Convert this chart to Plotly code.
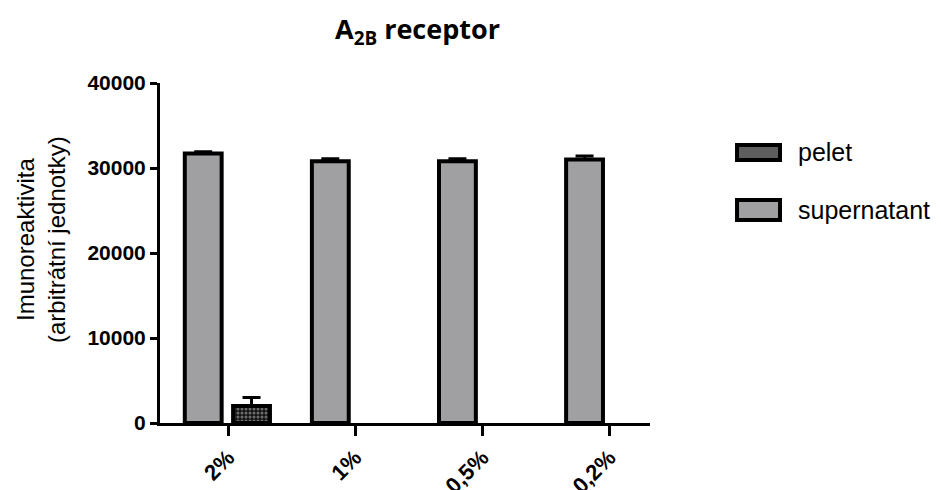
import plotly.graph_objects as go

categories = ["2%", "1%", "0,5%", "0,2%"]
supernatant = [31700, 30800, 30800, 31000]
supernatant_err = [200, 300, 300, 400]
pelet = [2000, 0, 0, 0]
pelet_err = [1000, 0, 0, 0]
y_ticks = [0, 10000, 20000, 30000, 40000]
series_names = ["pelet", "supernatant"]
y_title = "Imunoreaktivita<br>(arbitrátní jednotky)"

fig = go.Figure()
fig.add_trace(go.Bar(
    x=categories, y=[v if v else None for v in pelet], name=series_names[0], showlegend=False,
    offset=0.04, width=0.29,
    marker=dict(color="#111111", line=dict(color="black", width=4),
                pattern=dict(shape=".", fgcolor="#c8c8c8", bgcolor="#111111", size=4, solidity=0.45)),
    error_y=dict(type="data", symmetric=False, array=pelet_err, arrayminus=[0]*4,
                 color="black", thickness=3, width=9),
))
fig.add_trace(go.Bar(
    x=categories, y=supernatant, name=series_names[1], showlegend=False,
    offset=-0.34, width=0.29,
    marker=dict(color="#a0a0a2", line=dict(color="black", width=4)),
    error_y=dict(type="data", symmetric=False, array=supernatant_err, arrayminus=[0]*4,
                 color="black", thickness=3, width=9),
))

# legend drawn as shapes + text
fig.add_shape(type="rect", xref="paper", yref="paper", x0=1.1776, x1=1.2653, y0=0.7735, y1=0.8176,
              fillcolor="#5e5e5e", line=dict(color="black", width=4))
fig.add_shape(type="rect", xref="paper", yref="paper", x0=1.1776, x1=1.2653, y0=0.597, y1=0.6559,
              fillcolor="#a0a0a2", line=dict(color="black", width=4))
fig.add_annotation(text=series_names[0], xref="paper", yref="paper", x=1.298, y=0.797,
                   xanchor="left", yanchor="middle", showarrow=False, font=dict(size=25))
fig.add_annotation(text=series_names[1], xref="paper", yref="paper", x=1.298, y=0.6265,
                   xanchor="left", yanchor="middle", showarrow=False, font=dict(size=25))
# y-axis title
fig.add_annotation(text=y_title, xref="paper", yref="paper", x=(41-160)/490, y=(423-240)/340,
                   xanchor="center", yanchor="middle", textangle=-90, showarrow=False,
                   font=dict(size=24))

fig.update_layout(
    width=941, height=490,
    barmode="overlay",
    plot_bgcolor="white", paper_bgcolor="white",
    margin=dict(l=160, r=291, t=83, b=67, autoexpand=False),
    font=dict(family="Liberation Sans, Arial", color="black"),
    title=dict(text="<b>A<sub>2B</sub> receptor</b>", x=417.5/941, xanchor="center", y=1-30/490, yanchor="middle",
               font=dict(family="Open Sans, Liberation Sans", size=27, color="black")),
    showlegend=False,
)
fig.update_xaxes(
    range=[-0.535, 3.32], showline=True, linecolor="black", linewidth=3, automargin=False,
    ticks="outside", ticklen=10, tickwidth=3, tickcolor="black",
    tickangle=-45, tickfont=dict(size=22, family="Liberation Sans, Arial"),
    showgrid=False, zeroline=False,
    tickvals=categories, ticktext=[f"<b>{c}</b>" for c in categories],
)
fig.update_yaxes(
    range=[0, 40000], tickvals=y_ticks, ticktext=[f"<b>{v}</b>" for v in y_ticks],
    showline=True, linecolor="black", linewidth=3, automargin=False,
    ticks="outside", ticklen=7, tickwidth=3, tickcolor="black",
    tickfont=dict(size=21), showgrid=False, zeroline=False,
)
fig.write_html("out.html")
